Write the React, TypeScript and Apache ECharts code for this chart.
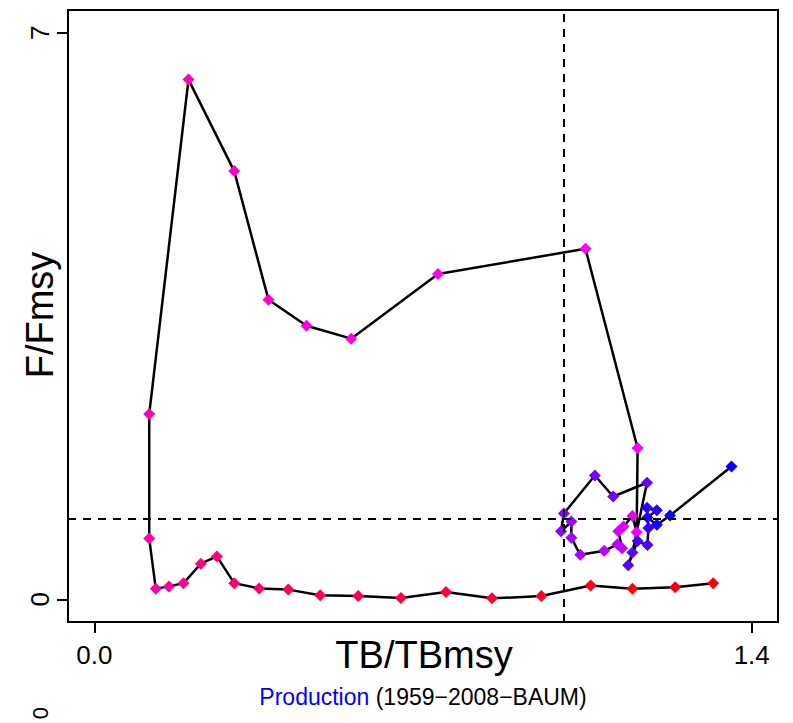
import React, { useEffect, useRef } from "react";
import * as echarts from "echarts";

// TB/TBmsy (x) and F/Fmsy (y), in chronological order
const tbRatio = [
  1.318, 1.237, 1.146, 1.057, 0.952, 0.847, 0.749, 0.653, 0.562, 0.481,
  0.413, 0.351, 0.298, 0.261, 0.227, 0.19, 0.159, 0.131, 0.117, 0.117,
  0.2006, 0.298, 0.371, 0.452, 0.547, 0.732, 1.046, 1.157, 1.155, 1.146,
  1.127, 1.116, 1.124, 1.114, 1.086, 1.035, 1.016, 1.016, 0.994, 1.0,
  1.066, 1.105, 1.177, 1.146, 1.137, 1.157, 1.178, 1.18, 1.177, 1.198,
  1.178, 1.198, 1.226, 1.357,
];
const fRatio = [
  0.2, 0.15, 0.13, 0.17, 0.04, 0.012, 0.09, 0.016, 0.04, 0.05,
  0.12, 0.135, 0.2, 0.53, 0.44, 0.2, 0.16, 0.13, 0.75, 2.29,
  6.42, 5.29, 3.7, 3.38, 3.22, 4.02, 4.33, 1.87, 0.83, 1.03,
  0.9, 0.84, 0.63, 0.68, 0.6, 0.55, 0.76, 0.96, 0.84, 1.06,
  1.53, 1.27, 1.44, 0.58, 0.42, 0.72, 0.67, 0.88, 1.13, 1.1,
  1.01, 0.92, 1.035, 1.64,
];
const xTicks = [0, 1.4];
const yTicks = [0, 7];
const refX = 1;
const refY = 1;

const FONT = "'Liberation Sans', Arial, Helvetica, sans-serif";

function colorAt(i: number, n: number): string {
  // red -> magenta -> blue
  const t = n > 1 ? i / (n - 1) : 0;
  let r = 255, g = 0, b = 0;
  if (t <= 0.5) {
    b = Math.round(255 * (t / 0.5));
  } else {
    b = 255;
    r = Math.round(255 * (1 - (t - 0.5) / 0.5));
  }
  return `rgb(${r},${g},${b})`;
}

export default function App() {
  const ref = useRef<HTMLDivElement>(null);
  useEffect(() => {
    if (!ref.current) return;
    const chart = echarts.init(ref.current, null, { renderer: "svg" });
    const n = tbRatio.length;
    const data = tbRatio.map((x, i) => ({
      value: [x, fRatio[i]],
      itemStyle: { color: colorAt(i, n) },
    }));
    chart.setOption({
      animation: false,
      backgroundColor: "#fff",
      grid: {
        left: 68,
        right: 15,
        top: 10,
        bottom: 101,
        show: true,
        borderColor: "#000",
        borderWidth: 2,
        backgroundColor: "transparent",
      },
      xAxis: {
        type: "value",
        min: -0.056,
        max: 1.456,
        splitLine: { show: false },
        axisLine: { show: false, onZero: false },
        axisTick: {
          show: true,
          customValues: xTicks,
          length: 11,
          lineStyle: { color: "#000", width: 2 },
        },
        axisLabel: {
          customValues: xTicks,
          formatter: (v: number) => v.toFixed(1),
          fontSize: 26,
          fontFamily: FONT,
          color: "#000",
          margin: 20,
        },
      },
      yAxis: {
        type: "value",
        min: -0.28,
        max: 7.28,
        splitLine: { show: false },
        axisLine: { show: false, onZero: false },
        axisTick: {
          show: true,
          customValues: yTicks,
          length: 11,
          lineStyle: { color: "#000", width: 2 },
        },
        axisLabel: {
          customValues: yTicks,
          formatter: (v: number) => String(v),
          rotate: 90,
          fontSize: 26,
          fontFamily: FONT,
          color: "#000",
          margin: 15,
        },
      },
      series: [
        {
          type: "line",
          data,
          symbol: "diamond",
          symbolSize: 12,
          showAllSymbol: true,
          lineStyle: { color: "#000", width: 2.5 },
          z: 3,
          markLine: {
            silent: true,
            symbol: "none",
            label: { show: false },
            lineStyle: { color: "#000", width: 2, type: [8, 7] },
            data: [{ xAxis: refX }, { yAxis: refY }],
          },
        },
      ],
      graphic: [
        {
          type: "text",
          x: 424,
          y: 655,
          style: {
            text: "TB/TBmsy",
            font: `38px ${FONT}`,
            fill: "#000",
            align: "center",
            verticalAlign: "middle",
          },
        },
        {
          type: "text",
          x: 40,
          y: 315,
          rotation: Math.PI / 2,
          style: {
            text: "F/Fmsy",
            font: `38px ${FONT}`,
            fill: "#000",
            align: "center",
            verticalAlign: "middle",
          },
        },
        {
          type: "text",
          x: 423,
          y: 697,
          style: {
            text: "{a|Production}{b| (1959\u22122008\u2212BAUM)}",
            align: "center",
            verticalAlign: "middle",
            rich: {
              a: { fill: "#0000ff", fontSize: 23, fontFamily: FONT },
              b: { fill: "#000", fontSize: 23, fontFamily: FONT },
            },
          },
        },
        {
          type: "text",
          x: 40,
          y: 713,
          rotation: Math.PI / 2,
          style: {
            text: "0",
            font: `22px ${FONT}`,
            fill: "#000",
            align: "center",
            verticalAlign: "middle",
          },
        },
      ],
    });
    return () => chart.dispose();
  }, []);
  return (
    <div
      ref={ref}
      style={{ position: "absolute", left: 0, top: 0, width: 793, height: 723 }}
    />
  );
}
